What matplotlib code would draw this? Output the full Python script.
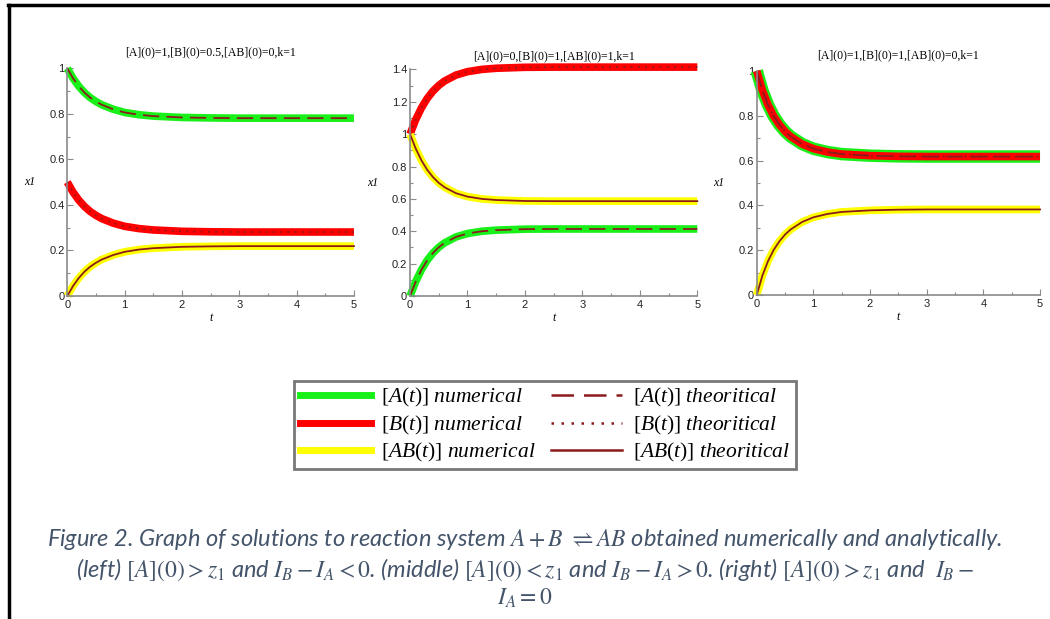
import matplotlib
matplotlib.use('Agg')
from matplotlib import pyplot as plt
from matplotlib.lines import Line2D
from matplotlib.ticker import MultipleLocator

plt.rcParams['mathtext.fontset'] = 'custom'
plt.rcParams['mathtext.rm'] = 'Liberation Serif'
plt.rcParams['mathtext.it'] = 'Liberation Serif:italic'

# time grid
t = [0, 0.1, 0.2, 0.3, 0.4, 0.5, 0.6, 0.8, 1.0, 1.25, 1.5, 2, 2.5, 3, 4, 5]

# left: [A](0)=1, [B](0)=0.5, [AB](0)=0
A_left = [1, 0.956, 0.921, 0.893, 0.871, 0.854, 0.840, 0.820, 0.806, 0.796, 0.790, 0.784, 0.782, 0.781, 0.781, 0.781]
B_left = [0.5, 0.456, 0.421, 0.393, 0.371, 0.354, 0.340, 0.320, 0.306, 0.296, 0.290, 0.284, 0.282, 0.281, 0.281, 0.281]
AB_left = [0, 0.044, 0.079, 0.107, 0.129, 0.146, 0.160, 0.180, 0.194, 0.204, 0.210, 0.216, 0.218, 0.219, 0.219, 0.219]

# middle: [A](0)=0, [B](0)=1, [AB](0)=1
A_mid = [0, 0.090, 0.163, 0.221, 0.266, 0.301, 0.328, 0.365, 0.386, 0.400, 0.407, 0.413, 0.414, 0.414, 0.414, 0.414]
B_mid = [1, 1.090, 1.163, 1.221, 1.266, 1.301, 1.328, 1.365, 1.386, 1.400, 1.407, 1.413, 1.414, 1.414, 1.414, 1.414]
AB_mid = [1, 0.910, 0.837, 0.779, 0.734, 0.699, 0.672, 0.635, 0.614, 0.600, 0.593, 0.587, 0.586, 0.586, 0.586, 0.586]

# right: [A](0)=1, [B](0)=1, [AB](0)=0
A_right = [1, 0.913, 0.848, 0.798, 0.760, 0.730, 0.707, 0.674, 0.653, 0.638, 0.629, 0.622, 0.619, 0.618, 0.618, 0.618]
B_right = [1, 0.913, 0.848, 0.798, 0.760, 0.730, 0.707, 0.674, 0.653, 0.638, 0.629, 0.622, 0.619, 0.618, 0.618, 0.618]
AB_right = [0, 0.087, 0.152, 0.202, 0.240, 0.270, 0.293, 0.326, 0.347, 0.362, 0.371, 0.378, 0.381, 0.382, 0.382, 0.382]

titles = ['[A](0)=1,[B](0)=0.5,[AB](0)=0,k=1',
          '[A](0)=0,[B](0)=1,[AB](0)=1,k=1',
          '[A](0)=1,[B](0)=1,[AB](0)=0,k=1']
ymax = [1.0, 1.4, 1.0]

green = '#19f019'
red = '#ff0000'
yellow = '#ffff00'
theo = '#8c1c1c'

fig = plt.figure(figsize=(10.5, 6.19), dpi=100)

boxes = [[0.0641, 0.5218, 0.2730, 0.3679],
         [0.3905, 0.5218, 0.2736, 0.3661],
         [0.7207, 0.5233, 0.2698, 0.3621]]
data = [(A_left, B_left, AB_left), (A_mid, B_mid, AB_mid), (A_right, B_right, AB_right)]

for i in range(3):
    ax = fig.add_axes(boxes[i])
    A, B, AB = data[i]
    wa = 9 if i == 2 else 5.5
    ax.plot(t, A, color=green, lw=wa, solid_capstyle='butt', clip_on=False)
    ax.plot(t, B, color=red, lw=5.5, solid_capstyle='butt', clip_on=False)
    ax.plot(t, AB, color=yellow, lw=5.5, solid_capstyle='butt', clip_on=False)
    ax.plot(t, A, color=theo, lw=1.3, dashes=(9, 4), clip_on=False)
    ax.plot(t, B, color=theo, lw=1.3, dashes=(1, 3), clip_on=False)
    ax.plot(t, AB, color=theo, lw=1.3, clip_on=False)
    ax.set_xlim(0, 5)
    ax.set_ylim(0, ymax[i])
    for s in ['top', 'right']:
        ax.spines[s].set_visible(False)
    for s in ['left', 'bottom']:
        ax.spines[s].set_color('#8a8a8a')
        ax.spines[s].set_linewidth(1.2)
    ax.xaxis.set_major_locator(MultipleLocator(1))
    ax.xaxis.set_minor_locator(MultipleLocator(0.5))
    ax.yaxis.set_major_locator(MultipleLocator(0.2))
    ax.yaxis.set_minor_locator(MultipleLocator(0.1))
    ax.tick_params(which='both', direction='in', color='#8a8a8a', labelsize=8,
                   labelcolor='#222222', width=0.8)
    ax.tick_params(which='major', length=4)
    ax.tick_params(which='minor', length=2)
    ax.tick_params(axis='x', pad=3)
    ax.tick_params(axis='y', pad=2)
    ax.xaxis.set_major_formatter(plt.FuncFormatter(lambda v, p: '%g' % v))
    ax.yaxis.set_major_formatter(plt.FuncFormatter(lambda v, p: '%g' % round(v, 1)))
    for lab in ax.get_xticklabels() + ax.get_yticklabels():
        lab.set_family('Liberation Sans')
    ax.set_title(titles[i], fontsize=8.5, family='Liberation Serif', pad=9 if i != 1 else 7)
    ax.set_xlabel('t', fontsize=8.5, family='Liberation Serif', style='italic', labelpad=1)
    ax.set_ylabel('x1', fontsize=8.5, family='Liberation Serif', style='italic', rotation=0,
                  labelpad=14, va='center')
    ax.patch.set_alpha(0)

# legend
handles = [Line2D([], [], color=green, lw=5),
           Line2D([], [], color=red, lw=5),
           Line2D([], [], color=yellow, lw=5),
           Line2D([], [], color=theo, lw=1.8, dashes=(9, 4)),
           Line2D([], [], color=theo, lw=1.8, dashes=(1, 3)),
           Line2D([], [], color=theo, lw=1.8)]
labels = [r'$[A(t)]\ \mathit{numerical}$',
          r'$[B(t)]\ \mathit{numerical}$',
          r'$[AB(t)]\ \mathit{numerical}$',
          r'$[A(t)]\ \mathit{theoritical}$',
          r'$[B(t)]\ \mathit{theoritical}$',
          r'$[AB(t)]\ \mathit{theoritical}$']
leg = fig.legend(handles, labels, ncol=2, loc='center', bbox_to_anchor=(0.519, 0.313),
                 fontsize=15.5, frameon=True, fancybox=False, handlelength=3.3,
                 handletextpad=0.5, columnspacing=0.7, labelspacing=0.2,
                 borderpad=0.25, borderaxespad=0)
leg.get_frame().set_edgecolor('#555555')
leg.get_frame().set_linewidth(2)

# caption
cap_color = '#44546a'
cap_kw = dict(ha='center', va='center', fontsize=17, color=cap_color,
              family='Lato', style='italic', math_fontfamily='stix')
fig.text(0.5, 0.128, r'Figure 2. Graph of solutions to reaction system $A + B\ \rightleftharpoons AB$ obtained numerically and analytically.', **cap_kw)
fig.text(0.5, 0.080, r'(left) $[A](0) > z_1$ and $I_B - I_A < 0$. (middle) $[A](0) < z_1$ and $I_B - I_A > 0$. (right) $[A](0) > z_1$ and  $I_B -$', **cap_kw)
fig.text(0.5, 0.034, r'$I_A = 0$', **cap_kw)

# frame lines on top and left
fig.add_artist(Line2D([0.008, 1.0], [0.992, 0.992], color='black', lw=2.5, transform=fig.transFigure))
fig.add_artist(Line2D([0.0087, 0.0087], [0.0, 0.992], color='black', lw=2.5, transform=fig.transFigure))

fig.savefig('out.png', dpi=100)
